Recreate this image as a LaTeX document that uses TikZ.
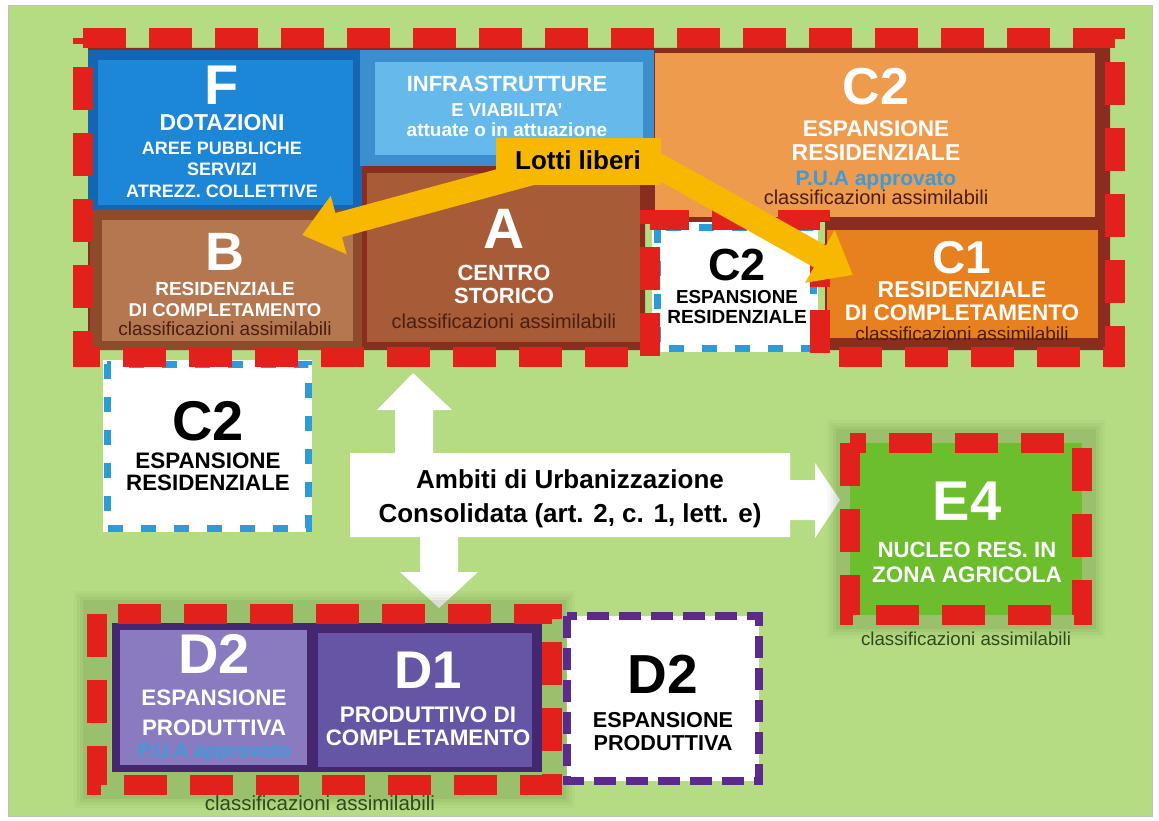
\documentclass[tikz,border=0pt]{standalone}
\usepackage{fontspec}
\setmainfont{Liberation Sans}
\usepackage{tikz}
\usetikzlibrary{arrows.meta, positioning, calc}
\definecolor{zbg}{HTML}{B5DB83}
\definecolor{zred}{HTML}{E2211C}
\definecolor{zmaroon}{HTML}{8A2C1E}
\definecolor{zfdark}{HTML}{1565B5}
\definecolor{zfblue}{HTML}{1C87D7}
\definecolor{zbdark}{HTML}{8E4B2B}
\definecolor{zbtan}{HTML}{B5774F}
\definecolor{zidark}{HTML}{3D8ECF}
\definecolor{zilight}{HTML}{66B9EB}
\definecolor{zabrown}{HTML}{A85B37}
\definecolor{zcorange}{HTML}{EE9B4D}
\definecolor{zcone}{HTML}{E7801F}
\definecolor{zblue}{HTML}{2E9AD8}
\definecolor{zpua}{HTML}{3E9BD8}
\definecolor{zpurple}{HTML}{5B2A8A}
\definecolor{zddark}{HTML}{45276F}
\definecolor{zdtwo}{HTML}{8A7BC0}
\definecolor{zdone}{HTML}{6655A5}
\definecolor{zefour}{HTML}{6CBE2D}
\definecolor{zyellow}{HTML}{F8B800}
\definecolor{ztbrown}{HTML}{4A1E10}
\definecolor{ztgreen}{HTML}{2D4A1E}
\definecolor{zglow}{HTML}{2F4A14}
\newcommand{\fsz}[1]{\fontsize{#1}{#1}\selectfont}

\begin{document}
\begin{tikzpicture}[x=1pt, y=-1pt,
	reddash/.style={draw=zred, line width=20pt, dash pattern=on 43pt off 23pt},
	bluedash/.style={draw=zblue, line width=7pt, dash pattern=on 15pt off 18pt},
	purpdash/.style={draw=zpurple, line width=8pt, dash pattern=on 22pt off 10pt},
	wtxt/.style={anchor=base, inner sep=0pt, text=white, font=\bfseries},
	ktxt/.style={wtxt, text=black},
	ctxt/.style={anchor=base, inner sep=0pt, text=ztbrown},
	gtxt/.style={ctxt, text=ztgreen},
	yband/.style={draw=zyellow, line width=25pt, -{Triangle[length=38pt, width=58pt]}}]
	\useasboundingbox (0,0) rectangle (1159,821);
	\fill[white] (0,0) rectangle (1159,821);
	\fill[zbg, draw=black!25] (8,5) rectangle (1152,816);
	\pgfmathsetmacro{\frl}{83}
	\pgfmathsetmacro{\frr}{1115}
	\pgfmathsetmacro{\frt}{38}
	\pgfmathsetmacro{\frb}{357}
	
	\fill[zmaroon] (88,48) -- (1110,48) -- (1110,350) -- (825,350) -- (825,222) -- (645,222) -- (645,350) -- (88,350) -- cycle;
	\fill[zfdark] (88,50) rectangle (362,210);
	\fill[zfblue] (98,60) rectangle (353,205);
	\fill[zbdark] (90,210) rectangle (362,350);
	\fill[zbtan] (102,220) rectangle (353,341);
	\fill[zidark] (360,50) rectangle (654,166);
	\fill[zilight] (375,62) rectangle (643,155);
	\fill[zabrown] (367,173) rectangle (640,342);
	\fill[zcorange] (655,53) rectangle (1095,217);
	\fill[zcone] (827,230) rectangle (1098,338);
	
	\fill[white] (652,222) rectangle (818,352);
	\draw[bluedash] (657,228) rectangle (813,348);
	\fill[white] (103,360) rectangle (312,532);
	\draw[bluedash] (107,364) rectangle (308,528);
	
	\draw[reddash] (\frl,\frt) -- (\frr,\frt) -- (\frr,\frb) -- (820,\frb) -- (820,220) -- (650,220) -- (650,\frb) -- (\frl,\frb) -- cycle;
	
	\node[wtxt] (fF) at (222,105) {\fsz{56}F};
	\node[wtxt] (fDot) at (222,131) {\fsz{23}DOTAZIONI};
	\node[wtxt] (fAree) at (222,155) {\fsz{18}AREE PUBBLICHE};
	\node[wtxt] (fServ) at (222,176) {\fsz{18}SERVIZI};
	\node[wtxt] (fAtr) at (222,198) {\fsz{18}ATREZZ. COLLETTIVE};
	
	\node[wtxt] (bB) at (225,270) {\fsz{54}B};
	\node[wtxt] (bRes) at (225,295) {\fsz{19}RESIDENZIALE};
	\node[wtxt] (bDi) at (225,316) {\fsz{18.5}DI COMPLETAMENTO};
	\node[ctxt] (bCl) at (225,335) {\fsz{19}classificazioni assimilabili};
	
	\node[wtxt] (iInf) at (507,92) {\fsz{22}INFRASTRUTTURE};
	\node[wtxt] (iVia) at (507,117) {\fsz{18.6}E VIABILITA'};
	\node[wtxt] (iAtt) at (507,137) {\fsz{19}attuate o in attuazione};
	
	\node[wtxt] (aA) at (504,248) {\fsz{57}A};
	\node[wtxt] (aCen) at (504,280) {\fsz{22}CENTRO};
	\node[wtxt] (aSto) at (504,303) {\fsz{22}STORICO};
	\node[ctxt] (aCl) at (504,328) {\fsz{20}classificazioni assimilabili};
	
	\node[wtxt] (cC) at (876,105) {\fsz{52}C2};
	\node[wtxt] (cEsp) at (876,137) {\fsz{22.6}ESPANSIONE};
	\node[wtxt] (cRes) at (876,161) {\fsz{23}RESIDENZIALE};
	\node[wtxt, text=zpua] (cPua) at (876,186) {\fsz{21}P.U.A approvato};
	\node[ctxt] (cCl) at (876,205) {\fsz{20}classificazioni assimilabili};
	
	\node[ktxt] (sC) at (737,280) {\fsz{45}C2};
	\node[ktxt] (sEsp) at (737,303) {\fsz{18.8}ESPANSIONE};
	\node[ktxt] (sRes) at (737,323) {\fsz{19}RESIDENZIALE};
	
	\node[wtxt] (oC) at (962,273) {\fsz{46}C1};
	\node[wtxt] (oRes) at (962,297) {\fsz{23}RESIDENZIALE};
	\node[wtxt] (oDi) at (962,320) {\fsz{22.5}DI COMPLETAMENTO};
	\node[ctxt] (oCl) at (962,340) {\fsz{19}classificazioni assimilabili};
	
	\node[ktxt] (lC) at (208,440) {\fsz{56}C2};
	\node[ktxt] (lEsp) at (208,468) {\fsz{22.4}ESPANSIONE};
	\node[ktxt] (lRes) at (208,490) {\fsz{22.3}RESIDENZIALE};
	
	\coordinate (lotl) at (560,165);
	\coordinate (lotr) at (630,150);
	\coordinate (btip) at (302,235);
	\coordinate (c1tip) at (853,275);
	\draw[yband] (lotl) -- (btip);
	\draw[yband] (lotr) -- (c1tip);
	\node[fill=zyellow, minimum width=165pt, minimum height=47pt, inner sep=0pt] (lotti) at (578,162) {};
	\node[ktxt] (lotTxt) at (578,170) {\fsz{26}Lotti liberi};
	
	\fill[white] (350,453) -- (395,453) -- (395,410) -- (377,410) -- (413,373) -- (452,410) -- (433,410) -- (433,453) -- (790,453) -- (790,480) -- (815,480) -- (815,463) -- (840,500) -- (815,538) -- (815,520) -- (790,520) -- (790,537) -- (458,537) -- (458,572) -- (478,572) -- (439,608) -- (400,572) -- (420,572) -- (420,537) -- (350,537) -- cycle;
	\node[ktxt] (amb1) at (570,488) {\fsz{26}Ambiti di Urbanizzazione};
	\node[ktxt] (amb2) at (570,522) {\fsz{26}Consolidata (art. 2, c. 1, lett. e)};
	
	\foreach \w/\o in {46/0.03, 40/0.04, 34/0.05, 28/0.07}
		\draw[draw=zglow, line width=\w pt, opacity=\o] (850,443) rectangle (1082,615);
	\fill[zefour] (850,443) rectangle (1082,615);
	\draw[reddash] (850,443) rectangle (1082,615);
	\node[wtxt] (eE) at (967,520) {\fsz{56}E4};
	\node[wtxt] (eNuc) at (967,557) {\fsz{22}NUCLEO RES. IN};
	\node[wtxt] (eZon) at (967,582) {\fsz{22.5}ZONA AGRICOLA};
	\node[gtxt] (eCl) at (966,645) {\fsz{18.7}classificazioni assimilabili};
	
	\foreach \w/\o in {46/0.03, 40/0.04, 34/0.05, 28/0.07}
		\draw[draw=zglow, line width=\w pt, opacity=\o] (97,614) rectangle (552,785);
	\fill[zddark] (112,623) rectangle (542,772);
	\fill[zdtwo] (120,630) rectangle (307,765);
	\fill[zdone] (318,633) rectangle (532,767);
	\draw[reddash] (97,614) rectangle (552,785);
	\node[wtxt] (dTwo) at (214,673) {\fsz{56}D2};
	\node[wtxt] (dEsp) at (214,705) {\fsz{22.4}ESPANSIONE};
	\node[wtxt] (dPro) at (214,735) {\fsz{22.4}PRODUTTIVA};
	\node[wtxt, text=zpua] (dPua) at (214,757) {\fsz{20}P.U.A approvato};
	\node[wtxt] (dOne) at (428,688) {\fsz{53}D1};
	\node[wtxt] (dProd) at (428,722) {\fsz{22.5}PRODUTTIVO DI};
	\node[wtxt] (dCom) at (428,745) {\fsz{22.4}COMPLETAMENTO};
	\node[gtxt] (dCl) at (320,810) {\fsz{20.5}classificazioni assimilabili};
	
	\fill[white] (567,616) rectangle (759,781);
	\draw[purpdash] (567,616) rectangle (759,781);
	\node[ktxt] (wTwo) at (663,693) {\fsz{55}D2};
	\node[ktxt] (wEsp) at (663,727) {\fsz{21.6}ESPANSIONE};
	\node[ktxt] (wPro) at (663,750) {\fsz{21.6}PRODUTTIVA};
\end{tikzpicture}
\end{document}
